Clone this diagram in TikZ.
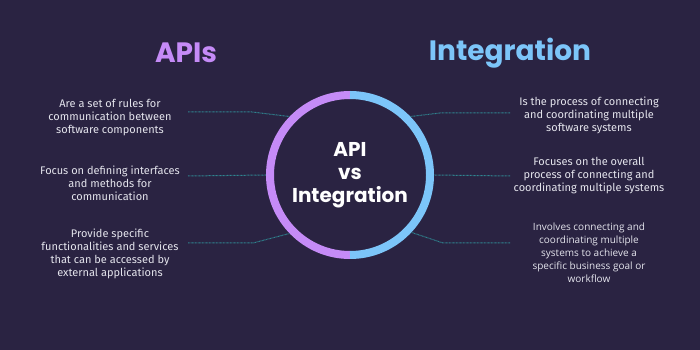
\documentclass[tikz,border=0pt]{standalone}
\usepackage{fontspec}
\setmainfont{Fira Sans}
\newfontfamily\headfont{Poppins}
\newfontfamily\altfont{Open Sans}
\usetikzlibrary{calc}
\definecolor{bgnavy}{HTML}{2A2342}
\definecolor{apipurple}{HTML}{C58BF7}
\definecolor{intblue}{HTML}{7CC5F9}
\definecolor{textgray}{HTML}{E4E4EC}
\definecolor{linkteal}{HTML}{2F8590}
\tikzset{
  heading/.style={font=\headfont\bfseries\fontsize{28}{30}\selectfont},
  desc/.style={text=textgray, align=center, inner sep=0pt,
    font=\fontsize{11}{13}\selectfont},
  link/.style={linkteal, dash pattern=on 0.8pt off 0.6pt, line width=1pt},
}

\begin{document}
\begin{tikzpicture}[x=1pt,y=1pt]
  % Fond
  \fill[bgnavy] (0,0) rectangle (700,350);
  \useasboundingbox (0,0) rectangle (700,350);
  % Titres
  \node[heading, text=apipurple] (apis) at (186,297) {APIs};
  \node[heading, text=intblue] (integ) at (510,297) {Integration};
  % Anneau central
  \node[circle, minimum size=168pt, inner sep=0pt] (hub) at (350,175) {};
  \draw[apipurple, line width=8pt] (hub.center) ++(90:80) arc(90:270:80);
  \draw[intblue, line width=8pt] (hub.center) ++(-90:80) arc(-90:90:80);
  \node[white, align=center, font=\headfont\bfseries\fontsize{20}{23}\selectfont]
    (hubtxt) at (hub.center) {API\\vs\\Integration};
  % Textes APIs
  \node[desc] (api1) at (110,232) {Are a set of rules for\\communication between\\software components};
  \node[desc] (api2) at (110,167) {Focus on defining interfaces\\and methods for\\communication};
  \node[desc] (api3) at (110,96.5) {Provide specific\\functionalities and services\\that can be accessed by\\external applications};
  % Textes Integration
  \node[desc] (int1) at (589,235) {Is the process of connecting\\and coordinating multiple\\software systems};
  \node[desc] (int2) at (589,174) {Focuses on the overall\\process of connecting and\\coordinating multiple systems};
  \node[desc, font=\altfont\fontsize{10}{13}\selectfont] (int3) at (589,97)
    {Involves connecting and\\coordinating multiple\\systems to achieve a\\specific business goal or\\workflow};
  % Liaisons
  \coordinate (l1) at (188,238);
  \coordinate (l2) at (188,174);
  \coordinate (l3) at (188,107);
  \coordinate (r1) at (510,237);
  \coordinate (r2) at (510,174);
  \coordinate (r3) at (510,107);
  \draw[link] (l1) -- ++(64,0) -- (hub.136);
  \draw[link] (l2) -- (hub.180);
  \draw[link] (l3) -- ++(65,0) -- (hub.224);
  \draw[link] (r1) -- ++(-70,0) -- (hub.44);
  \draw[link] (r2) -- (hub.0);
  \draw[link] (r3) -- ++(-67,0) -- (hub.-43);
\end{tikzpicture}
\end{document}
